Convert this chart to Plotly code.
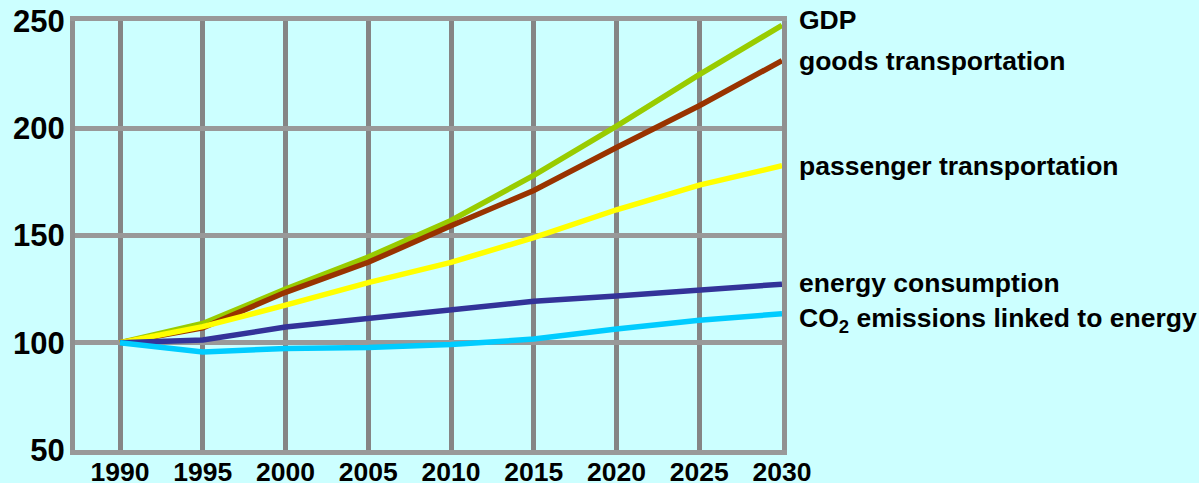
import plotly.graph_objects as go

years = [1990, 1995, 2000, 2005, 2010, 2015, 2020, 2025, 2030]
gdp = [100, 109, 125, 140, 157, 178, 201, 225, 248]
goods = [100, 107, 123.5, 137.5, 154.5, 171, 191, 210.5, 231.5]
passenger = [100, 107.5, 117.5, 128, 137.5, 149, 162, 173.5, 182.5]
energy = [100, 101.3, 107.3, 111.5, 115.5, 119.3, 121.8, 124.5, 127.3]
co2 = [100, 95.7, 97.3, 97.8, 99.2, 101.7, 106.4, 110.5, 113.5]

series = [
    ("GDP", gdp, "#99cc00"),
    ("goods transportation", goods, "#993300"),
    ("passenger transportation", passenger, "#ffff00"),
    ("energy consumption", energy, "#333399"),
    ("CO<sub>2</sub> emissions linked to energy", co2, "#00ccff"),
]
label_y = [250.5, 231.5, 182.5, 127.8, 110.5]
y_min, y_max = 50, 250

font_family = "Liberation Sans, Arial, sans-serif"

fig = go.Figure()
for name, vals, color in series:
    fig.add_trace(go.Scatter(x=years, y=vals, mode="lines", name=name,
                             line=dict(color=color, width=5.5), showlegend=False))

for (name, vals, color), ly in zip(series, label_y):
    fig.add_annotation(x=1.0215, xref="paper", y=(ly - y_min) / (y_max - y_min), yref="paper",
                       text=name, showarrow=False, xanchor="left", yanchor="middle",
                       font=dict(family=font_family, size=26.5, color="black", weight="bold"))

fig.update_layout(
    width=1199, height=483,
    margin=dict(l=75, r=417, t=21, b=33, autoexpand=False),
    paper_bgcolor="#ccffff", plot_bgcolor="#ccffff",
    xaxis=dict(range=[1987.28, 2030], tickvals=years, ticktext=[str(y) for y in years],
               showgrid=True, gridcolor="#858585", gridwidth=5,
               showline=True, mirror=True, linecolor="#999999", linewidth=4.5,
               zeroline=False, ticks="", ticklabelstandoff=-6, automargin=False,
               tickfont=dict(family=font_family, size=26.5, color="black", weight="bold")),
    yaxis=dict(range=[y_min, y_max], tickvals=[50, 100, 150, 200, 250],
               showgrid=True, gridcolor="#999999", gridwidth=4.5,
               showline=True, mirror=True, linecolor="#909090", linewidth=5,
               zeroline=False, ticks="", ticklabelstandoff=-1, automargin=False,
               tickfont=dict(family=font_family, size=31, color="black", weight="bold")),
)

fig.write_html("out.html")
